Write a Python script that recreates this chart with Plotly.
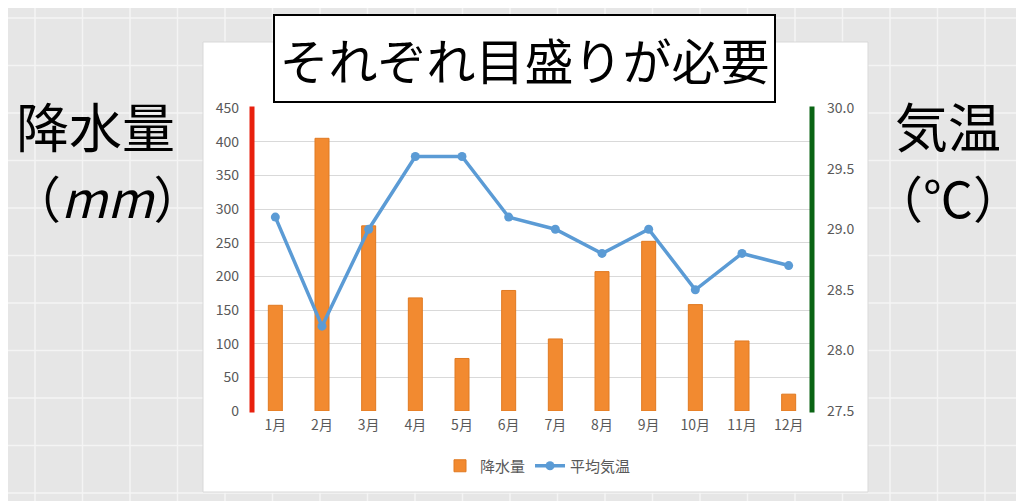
import plotly.graph_objects as go

# 月別データ
months = ['1月', '2月', '3月', '4月', '5月', '6月', '7月', '8月', '9月', '10月', '11月', '12月']
rain_mm = [157, 405, 275, 168, 78, 179, 107, 207, 252, 158, 104, 25]
temp_c = [29.1, 28.2, 29.0, 29.6, 29.6, 29.1, 29.0, 28.8, 29.0, 28.5, 28.8, 28.7]

left_ticks = [0, 50, 100, 150, 200, 250, 300, 350, 400, 450]
right_ticks = [27.5, 28.0, 28.5, 29.0, 29.5, 30.0]

# the page body has an 8px margin, so shift the figure back by that much
OFF = 8
W, H = 1024 - OFF, 501 - OFF
L, R, T, B = 252, 812, 108, 411   # plot area in screen pixels


def px_x(x):
    return (x - L) / (R - L)


def px_y(y):
    return (B - y) / (B - T)


FONT = 'Noto Sans CJK JP'
TICK = dict(family=FONT, size=14, color='#595959')

fig = go.Figure()
fig.add_trace(go.Bar(
    x=months, y=rain_mm, name='降水量',
    marker=dict(color='#F28A30', line=dict(color='#E07A22', width=1)),
    width=0.3,
))
fig.add_trace(go.Scatter(
    x=months, y=temp_c, name='平均気温', yaxis='y2',
    mode='lines+markers',
    line=dict(color='#5B9BD5', width=3.5),
    marker=dict(color='#5B9BD5', size=9),
))

shapes = []
# 背景のシート風グリッド
gx = 35
while gx < 1024:
    shapes.append(dict(type='line', xref='paper', yref='paper', layer='below',
                       x0=px_x(gx), x1=px_x(gx), y0=px_y(0), y1=px_y(501),
                       line=dict(color='#f4f4f4', width=1.5)))
    gx += 47.5
gy = 18
while gy < 501:
    shapes.append(dict(type='line', xref='paper', yref='paper', layer='below',
                       x0=px_x(0), x1=px_x(1024), y0=px_y(gy), y1=px_y(gy),
                       line=dict(color='#f4f4f4', width=1.5)))
    gy += 47.5
# 白いグラフエリア
shapes.append(dict(type='rect', xref='paper', yref='paper', layer='below',
                   x0=px_x(203), x1=px_x(868), y0=px_y(42), y1=px_y(492),
                   fillcolor='white', line=dict(color='#d9d9d9', width=1)))
# 左右の軸ライン (色付き)
shapes.append(dict(type='line', xref='paper', yref='paper',
                   x0=px_x(252), x1=px_x(252), y0=-0.005, y1=1.005,
                   line=dict(color='#E8200E', width=5)))
shapes.append(dict(type='line', xref='paper', yref='paper',
                   x0=px_x(812), x1=px_x(812), y0=-0.005, y1=1.005,
                   line=dict(color='#0A6414', width=5)))

annotations = [
    dict(text='それぞれ目盛りが必要', xref='paper', yref='paper',
         x=px_x(524.5), y=px_y(58.5), xanchor='center', yanchor='middle',
         showarrow=False, font=dict(family=FONT, size=49, color='black'),
         bgcolor='white', bordercolor='black', borderwidth=2,
         width=497, height=83),
    dict(text='降水量', xref='paper', yref='paper',
         x=px_x(95), y=px_y(125), xanchor='center', yanchor='middle',
         showarrow=False, font=dict(family=FONT, size=53, color='black')),
    dict(text='（<i>mm</i>）', xref='paper', yref='paper',
         x=px_x(9), y=px_y(196), xanchor='left', yanchor='middle',
         showarrow=False, font=dict(family=FONT, size=50, color='black')),
    dict(text='気温', xref='paper', yref='paper',
         x=px_x(948), y=px_y(125), xanchor='center', yanchor='middle',
         showarrow=False, font=dict(family=FONT, size=53, color='black')),
    dict(text='（℃）', xref='paper', yref='paper',
         x=px_x(948), y=px_y(196), xanchor='center', yanchor='middle',
         showarrow=False, font=dict(family=FONT, size=50, color='black')),
]

fig.update_layout(
    width=W, height=H,
    margin=dict(l=L - OFF, r=1024 - R, t=T - OFF, b=501 - B, pad=0),
    paper_bgcolor='#e6e6e6',
    plot_bgcolor='rgba(0,0,0,0)',
    showlegend=True,
    legend=dict(orientation='h', x=px_x(538), y=px_y(466),
                xanchor='center', yanchor='middle',
                font=dict(family=FONT, size=15, color='#595959'),
                bgcolor='rgba(0,0,0,0)'),
    xaxis=dict(type='category', range=[-0.5, 11.5], tickfont=TICK,
               showgrid=False, showline=False, ticks='', zeroline=False,
               ticklabelstandoff=4),
    yaxis=dict(range=[0, 450], tickvals=left_ticks, tickfont=TICK,
               gridcolor='#d9d9d9', gridwidth=1, zeroline=False,
               showline=False, ticks='', ticklabelstandoff=12),
    yaxis2=dict(range=[27.5, 30], tickvals=right_ticks, tickformat='.1f',
                tickfont=TICK, overlaying='y', side='right', showgrid=False,
                zeroline=False, showline=False, ticks='', ticklabelstandoff=14),
    shapes=shapes,
    annotations=annotations,
    bargap=0.7,
)

fig.write_html('out.html')
